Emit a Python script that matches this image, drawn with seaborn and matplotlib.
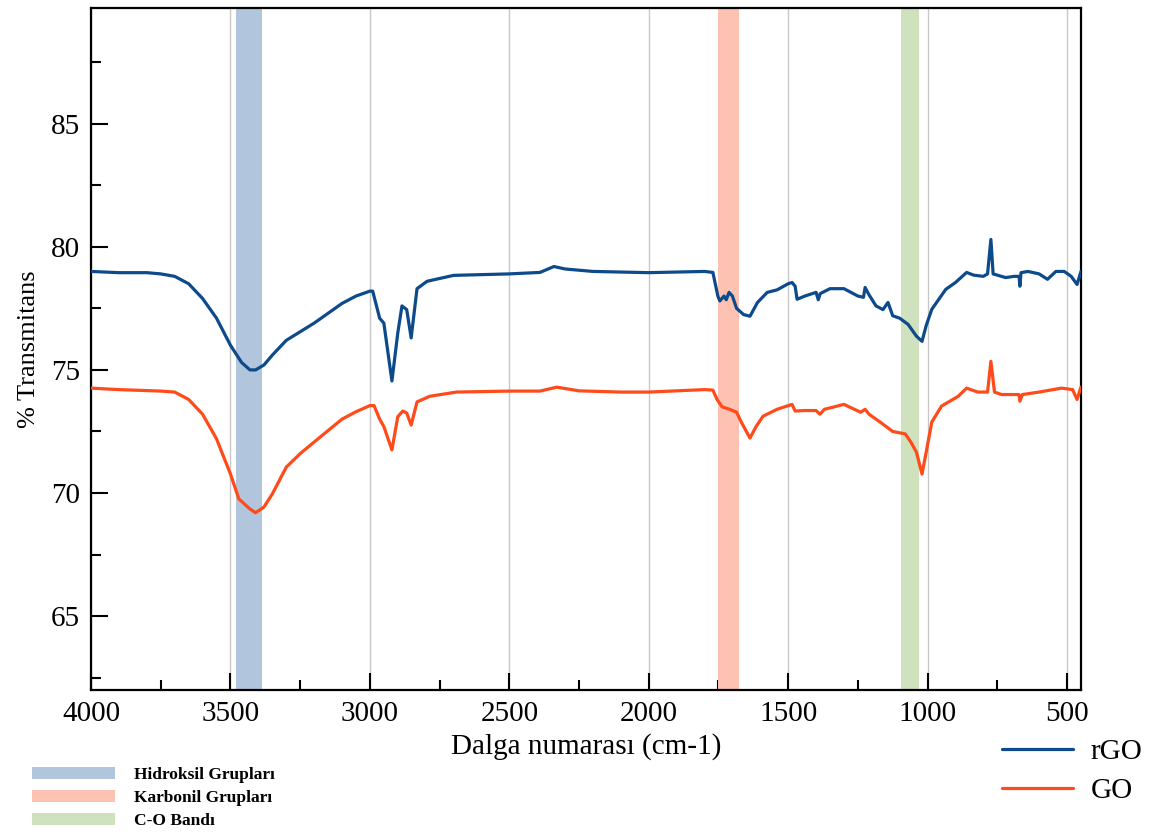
import matplotlib.pyplot as plt
import seaborn as sns
import numpy as np
from matplotlib.patches import Patch
from matplotlib.lines import Line2D
from matplotlib.ticker import MultipleLocator

# Spectrum values
rgo_wn = [4000, 3900, 3800, 3750, 3700, 3650, 3600, 3550, 3500, 3460, 3430, 3410, 3380, 3350,
          3300, 3200, 3100, 3050, 3000, 2990, 2965, 2950, 2921, 2900, 2885, 2868, 2852, 2831,
          2795, 2700, 2500, 2390, 2340, 2300, 2200, 2000, 1800, 1770, 1752, 1745, 1730, 1722,
          1712, 1700, 1685, 1660, 1637, 1610, 1575, 1540, 1500, 1486, 1475, 1468, 1440, 1400,
          1392, 1385, 1350, 1300, 1250, 1230, 1224, 1210, 1185, 1160, 1142, 1125, 1100, 1070,
          1040, 1020, 1005, 985, 935, 900, 860, 835, 800, 785, 773, 765, 750, 720, 690, 672,
          669, 665, 640, 600, 570, 540, 510, 485, 464, 450]
rgo_t = [79.0, 78.95, 78.95, 78.9, 78.8, 78.5, 77.9, 77.1, 76.0, 75.3, 75.0, 75.0, 75.2, 75.6,
         76.2, 76.9, 77.7, 78.0, 78.2, 78.2, 77.1, 76.9, 74.55, 76.5, 77.6, 77.45, 76.3, 78.3,
         78.6, 78.84, 78.9, 78.96, 79.2, 79.1, 79.0, 78.95, 79.0, 78.96, 77.99, 77.8, 78.0, 77.85,
         78.15, 78.0, 77.5, 77.25, 77.18, 77.74, 78.15, 78.25, 78.5, 78.55, 78.4, 77.87, 78.0, 78.15,
         77.85, 78.1, 78.3, 78.3, 78.0, 77.95, 78.35, 78.05, 77.6, 77.45, 77.74, 77.2, 77.1, 76.85,
         76.37, 76.16, 76.8, 77.46, 78.27, 78.55, 78.96, 78.85, 78.8, 78.9, 80.3, 78.9, 78.85, 78.75, 78.8, 78.8,
         78.4, 78.95, 79.0, 78.9, 78.68, 79.0, 79.0, 78.8, 78.47, 79.0]

go_wn = [4000, 3900, 3750, 3700, 3650, 3600, 3550, 3500, 3470, 3430, 3410, 3380, 3350, 3300,
         3250, 3200, 3100, 3050, 3000, 2985, 2965, 2950, 2921, 2900, 2882, 2868, 2852, 2831,
         2785, 2690, 2500, 2390, 2330, 2250, 2100, 2000, 1800, 1770, 1755, 1737, 1710, 1685,
         1668, 1637, 1615, 1590, 1540, 1486, 1475, 1440, 1400, 1386, 1370, 1300, 1240, 1224,
         1210, 1170, 1125, 1080, 1060, 1040, 1020, 1005, 985, 950, 890, 860, 820, 785, 773,
         760, 735, 700, 672, 669, 660, 600, 520, 480, 464, 450]
go_t = [74.26, 74.2, 74.14, 74.1, 73.8, 73.2, 72.2, 70.77, 69.76, 69.35, 69.2, 69.43, 69.96, 71.05,
        71.6, 72.07, 73.0, 73.3, 73.55, 73.55, 73.0, 72.7, 71.75, 73.1, 73.33, 73.25, 72.76, 73.7,
        73.93, 74.1, 74.14, 74.14, 74.3, 74.15, 74.1, 74.1, 74.2, 74.18, 73.8, 73.5, 73.4, 73.28,
        72.88, 72.23, 72.7, 73.12, 73.4, 73.6, 73.33, 73.35, 73.35, 73.2, 73.4, 73.6, 73.28, 73.4,
        73.2, 72.88, 72.5, 72.4, 72.07, 71.66, 70.77, 71.66, 72.88, 73.53, 73.93, 74.26, 74.1, 74.1, 75.35,
        74.1, 74.0, 74.0, 74.0, 73.73, 74.0, 74.1, 74.26, 74.2, 73.8, 74.3]

# Highlighted bands (cm-1)
band_names = ["Hidroksil Grupları", "Karbonil Grupları", "C-O Bandı"]
band_ranges = [(3480, 3387), (1752, 1676), (1095, 1031)]
band_colors = ["#b1c6dc", "#fdc2b1", "#cfe1bd"]

sns.set_style("white")
plt.rcParams["font.family"] = ["Liberation Serif", "DejaVu Serif"]
for k in ["text.color", "axes.labelcolor", "xtick.color", "ytick.color"]:
    plt.rcParams[k] = "black"

fig = plt.figure(figsize=(11.54, 8.34), dpi=100)
ax = fig.add_axes([0.0789, 0.1727, 0.8578, 0.8177])

for (a, b), c in zip(band_ranges, band_colors):
    ax.axvspan(b, a, color=c, lw=0, zorder=1)

sns.lineplot(x=rgo_wn, y=rgo_t, ax=ax, color="#0d4a8c", lw=2.3, zorder=3)
sns.lineplot(x=go_wn, y=go_t, ax=ax, color="#ff4a1a", lw=2.3, zorder=3)

ax.set_xlim(4000, 450)
ax.set_ylim(62, 89.7)
ax.xaxis.set_major_locator(MultipleLocator(500))
ax.xaxis.set_minor_locator(MultipleLocator(250))
ax.yaxis.set_major_locator(MultipleLocator(5))
ax.yaxis.set_minor_locator(MultipleLocator(2.5))
ax.grid(axis="x", color="#c8c8c8", lw=1, zorder=0)
ax.set_axisbelow(True)

ax.tick_params(which="both", direction="in", bottom=True, left=True, top=False, right=False,
               width=1.5, color="black", labelsize=21)
ax.tick_params(which="major", length=12, pad=8)
ax.tick_params(which="minor", length=7)
for s in ax.spines.values():
    s.set_color("black")
    s.set_linewidth(1.6)

ax.set_xlabel("Dalga numarası (cm-1)", fontsize=21, labelpad=4)
ax.set_ylabel("% Transmitans", fontsize=19, labelpad=8)

band_handles = [Patch(facecolor=c, edgecolor="none") for c in band_colors]
fig.legend(band_handles, band_names, loc="upper left", bbox_to_anchor=(0.0215, 0.089),
           frameon=False, prop={"weight": "bold", "size": 12.5}, handlelength=4.8,
           handleheight=0.7, labelspacing=0.4, handletextpad=1.1, borderaxespad=0)

line_handles = [Line2D([0], [0], color="#0d4a8c", lw=2.3), Line2D([0], [0], color="#ff4a1a", lw=2.3)]
fig.legend(line_handles, ["rGO", "GO"], loc="upper left", bbox_to_anchor=(0.858, 0.128),
           frameon=False, fontsize=21, handlelength=2.45, labelspacing=0.42,
           handletextpad=0.6, borderaxespad=0)

fig.savefig("out.png", dpi=100)
